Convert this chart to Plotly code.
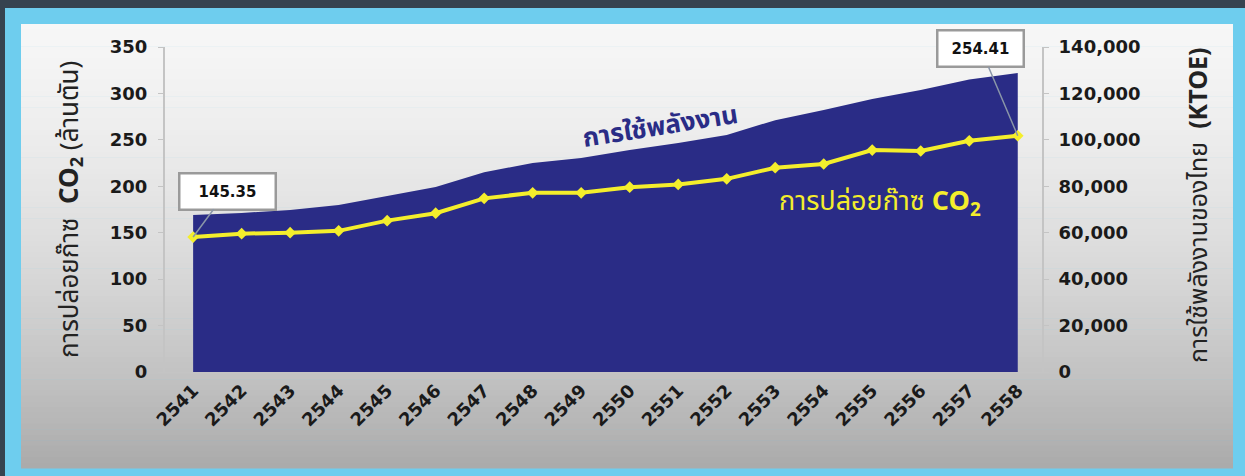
import plotly.graph_objects as go

years = ["2541", "2542", "2543", "2544", "2545", "2546", "2547", "2548", "2549",
         "2550", "2551", "2552", "2553", "2554", "2555", "2556", "2557", "2558"]
energy_ktoe = [67600, 68500, 69800, 71900, 75800, 79700, 86100, 90000, 92200,
               95600, 98600, 102100, 108500, 112900, 117600, 121500, 126000, 128800]
co2_mt = [145.35, 149, 150, 152, 163, 171, 187, 193, 193,
          199, 202, 208, 220, 224, 239, 238, 249, 254.41]

left_ticks = [0, 50, 100, 150, 200, 250, 300, 350]
right_ticks = [0, 20000, 40000, 60000, 80000, 100000, 120000, 140000]

NAVY = "#2a2c86"
YELLOW = "#f4ee2c"
THAI = "Tahoma, 'Noto Sans Thai', 'Noto Sans', 'DejaVu Sans', sans-serif"
BOLDF = "'DejaVu Sans', Verdana, sans-serif"

W, H = 1245, 476
L, R, T, B = 165, 1042, 47, 372


def px(x):
    return (x - L) / (R - L)


def py(y):
    return (B - y) / (B - T)


fig = go.Figure()

# energy area (primary y axis, right side)
fig.add_trace(go.Scatter(x=years, y=energy_ktoe, mode="none", fill="tozeroy",
                         fillcolor=NAVY, yaxis="y", hoverinfo="skip",
                         showlegend=False))
# CO2 line
fig.add_trace(go.Scatter(x=years, y=co2_mt, mode="lines+markers", yaxis="y2",
                         line=dict(color=YELLOW, width=4),
                         marker=dict(color=YELLOW, size=9, symbol="diamond"),
                         showlegend=False))

shapes = []
# outer dark frame
shapes.append(dict(type="rect", xref="paper", yref="paper", x0=px(0), x1=px(W),
                   y0=py(0), y1=py(8), fillcolor="#36434f", line=dict(width=0),
                   layer="below"))
shapes.append(dict(type="rect", xref="paper", yref="paper", x0=px(0), x1=px(5),
                   y0=py(0), y1=py(H), fillcolor="#36434f", line=dict(width=0),
                   layer="below"))
# inner gradient panel
n = 80
y_top, y_bot = 24, 468
for i in range(n):
    t = (i + 0.5) / n
    v = int(round(247 - 30 * t - 47 * t * t))
    ya = y_top + (y_bot - y_top) * i / n
    yb = y_top + (y_bot - y_top) * (i + 1) / n + 0.6
    shapes.append(dict(type="rect", xref="paper", yref="paper",
                       x0=px(21), x1=px(1233), y0=py(yb), y1=py(ya),
                       fillcolor=f"rgb({v},{v},{v})", line=dict(width=0),
                       layer="below"))

C = dict(xanchor="center", yanchor="middle")
annotations = [
    dict(x=0, y=co2_mt[0], xref="x", yref="y2", text="<b>145.35</b>",
         showarrow=True, arrowhead=0, arrowwidth=1.5, arrowcolor="#8a96a8",
         ax=34, ay=-46, bgcolor="white", bordercolor="#9a9a9a", borderwidth=2.5,
         width=92, height=32, font=dict(family=BOLDF, size=15, color="#111")),
    dict(x=len(years) - 1, y=co2_mt[-1], xref="x", yref="y2", text="<b>254.41</b>",
         showarrow=True, arrowhead=0, arrowwidth=1.5, arrowcolor="#8a96a8",
         ax=-37, ay=-87, bgcolor="white", bordercolor="#9a9a9a", borderwidth=2.5,
         width=82, height=32, font=dict(family=BOLDF, size=15, color="#111")),
    dict(x=px(660), y=py(127), xref="paper", yref="paper", showarrow=False,
         text="<b>การใช้พลังงาน</b>", textangle=-9,
         font=dict(family=THAI, size=26, color=NAVY), **C),
    dict(x=px(880), y=py(203), xref="paper", yref="paper", showarrow=False,
         text="การปล่อยก๊าซ <b>CO<sub>2</sub></b>",
         font=dict(family=THAI, size=27, color=YELLOW), **C),
    dict(x=px(71), y=py(210), xref="paper", yref="paper", showarrow=False,
         text="การปล่อยก๊าซ  <b>CO<sub>2</sub></b> (ล้านตัน)", textangle=-90,
         font=dict(family=THAI, size=26, color="#222"), **C),
    dict(x=px(1199), y=py(205), xref="paper", yref="paper", showarrow=False,
         text="การใช้พลังงานของไทย  <b>(KTOE)</b>", textangle=-90,
         font=dict(family=THAI, size=25, color="#222"), **C),
]

fig.update_layout(
    width=W, height=H,
    margin=dict(l=L, r=W - R, t=T, b=H - B, pad=0),
    paper_bgcolor="#6ecdee",
    plot_bgcolor="rgba(0,0,0,0)",
    shapes=shapes,
    annotations=annotations,
    showlegend=False,
    xaxis=dict(type="category", range=[-0.58, 17.5], showgrid=False,
               showline=True, linecolor="#c4c4c4", linewidth=1,
               tickangle=-45, ticks="", zeroline=False,
               tickfont=dict(family=BOLDF, size=18, color="#1a1a1a", weight="bold")),
    yaxis=dict(side="right", range=[0, 140000], tickvals=right_ticks,
               tickformat=",", showgrid=False, zeroline=False,
               showline=True, linecolor="#c4c4c4", linewidth=2,
               ticks="outside", ticklen=5, tickcolor="#c4c4c4",
               ticklabelstandoff=6,
               tickfont=dict(family=BOLDF, size=18, color="#1a1a1a", weight="bold")),
    yaxis2=dict(side="left", overlaying="y", range=[0, 350], tickvals=left_ticks,
                showgrid=False, zeroline=False,
                showline=True, linecolor="#c4c4c4", linewidth=2,
                ticks="outside", ticklen=5, tickcolor="#c4c4c4",
                ticklabelstandoff=7,
                tickfont=dict(family=BOLDF, size=18, color="#1a1a1a", weight="bold")),
)

fig.write_html("out.html")
